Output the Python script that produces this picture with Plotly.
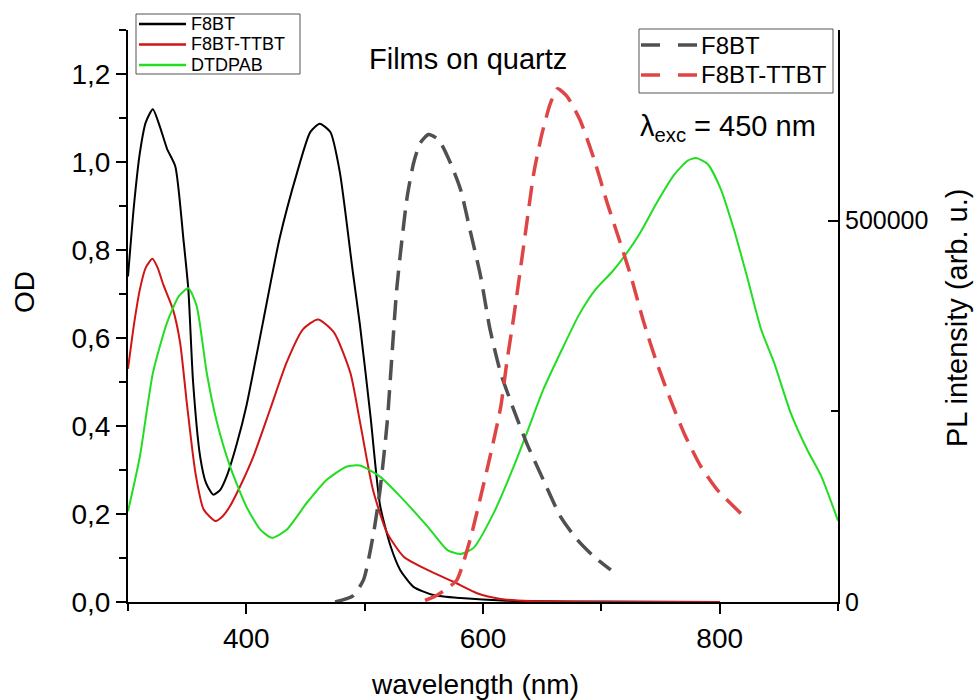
import plotly.graph_objects as go

# ---------------- data ----------------
# Absorption (left axis, OD)
wl_f8bt_abs = [300, 305, 310, 315, 321, 327, 333, 340, 347, 351, 355, 361, 366, 372, 378, 384, 392,
               400, 414, 428, 443, 454, 462, 471, 479, 490, 496, 505, 513, 522, 530, 541, 558, 581,
               620, 700, 800]
od_f8bt = [0.74, 0.90, 1.02, 1.09, 1.12, 1.08, 1.03, 0.99, 0.82, 0.71, 0.50, 0.33, 0.27, 0.244, 0.255,
           0.29, 0.36, 0.445, 0.635, 0.825, 0.977, 1.068, 1.087, 1.068, 0.977, 0.75, 0.63, 0.42, 0.22,
           0.126, 0.073, 0.035, 0.016, 0.009, 0.003, 0.001, 0.0]

wl_ttbt_abs = [300, 305, 310, 315, 320.6, 325, 330, 338, 344, 350, 357, 364, 374, 380, 386, 396, 406,
               420, 434, 448, 460.5, 474, 488, 496, 507, 519, 533, 553, 575, 595, 615, 640, 700, 800]
od_ttbt = [0.53, 0.63, 0.71, 0.76, 0.78, 0.76, 0.72, 0.665, 0.59, 0.445, 0.293, 0.21, 0.184, 0.195,
           0.217, 0.27, 0.331, 0.437, 0.544, 0.62, 0.642, 0.613, 0.52, 0.41, 0.255, 0.157, 0.103,
           0.073, 0.046, 0.02, 0.007, 0.002, 0.0, 0.0]

wl_dtdpab_abs = [300, 310, 321, 333, 343, 351, 358, 366.6, 375, 386, 400, 412, 421.6, 434, 451, 468,
                 485, 496, 513, 530, 553, 570, 581, 592, 609, 626, 637, 651, 665.5, 681, 695, 709,
                 722, 733, 747, 761, 773, 780, 790, 801, 812, 823, 835, 846, 860, 874, 886, 900]
od_dtdpab = [0.206, 0.33, 0.52, 0.635, 0.695, 0.713, 0.673, 0.52, 0.41, 0.31, 0.217, 0.164, 0.146,
             0.164, 0.225, 0.278, 0.308, 0.31, 0.285, 0.24, 0.172, 0.118, 0.109, 0.123, 0.202, 0.308,
             0.384, 0.483, 0.567, 0.652, 0.71, 0.75, 0.795, 0.84, 0.908, 0.969, 1.003, 1.009, 0.995,
             0.938, 0.847, 0.741, 0.62, 0.544, 0.43, 0.346, 0.285, 0.185]

# Photoluminescence (right axis, arb. u.)
wl_f8bt_pl = [475, 480, 490, 499, 507.5, 513, 519, 523, 527, 531.5, 536, 541.4, 547, 554, 562.5, 572.4,
              581, 589, 598, 606, 615, 626, 637, 651, 665.5, 680, 694, 708]
pl_f8bt = [0, 2000, 8000, 29000, 90000, 147000, 235000, 322000, 409000, 475000, 532000, 576000, 602000,
           613000, 606000, 576000, 541000, 488000, 427000, 357000, 300000, 252000, 208000, 160000,
           112000, 81000, 59000, 42000]

wl_ttbt_pl = [551, 560, 570, 578, 589, 598, 606, 615, 620, 626, 631.6, 637, 643, 650, 657, 663, 671, 682,
              694, 705, 716, 725, 736, 747, 758.5, 770, 784, 798, 818]
pl_ttbt = [2000, 8000, 18000, 29000, 81000, 138000, 191000, 256000, 313000, 374000, 436000, 497000,
           563000, 615000, 654000, 673000, 663000, 632000, 580000, 523000, 471000, 427000, 366000,
           313000, 265000, 221000, 178000, 147000, 116000]

# Tick labels
x_ticks = [400, 600, 800]
x_minor = [300, 500, 700, 900]
od_ticks = [0.0, 0.2, 0.4, 0.6, 0.8, 1.0, 1.2]
od_ticktext = ["0,0", "0,2", "0,4", "0,6", "0,8", "1,0", "1,2"]
od_minor = [0.1, 0.3, 0.5, 0.7, 0.9, 1.1, 1.3]
pl_ticks = [0, 500000]
pl_ticktext = ["0", "500000"]
pl_minor = [250000]

abs_names = ["F8BT", "F8BT-TTBT", "DTDPAB"]
pl_names = ["F8BT", "F8BT-TTBT"]

# ---------------- styling ----------------
W, H = 974, 700
L, R, T, B = 128, 136, 30, 98
PW, PH = W - L - R, H - T - B
FONT = "Liberation Sans, Arial, sans-serif"
C_BLACK, C_RED, C_GREEN = "#000000", "#d01515", "#22dd22"
C_GRAY_D, C_RED_D = "#505050", "#e04545"


def fx(p):
    return (p - L) / PW


def fy(p):
    return (H - B - p) / PH


fig = go.Figure()
for wl, val, col, nm in [(wl_f8bt_abs, od_f8bt, C_BLACK, abs_names[0]),
                         (wl_ttbt_abs, od_ttbt, C_RED, abs_names[1]),
                         (wl_dtdpab_abs, od_dtdpab, C_GREEN, abs_names[2])]:
    fig.add_trace(go.Scatter(x=wl, y=val, mode="lines", name=nm, showlegend=False,
                             line=dict(color=col, width=2, shape="spline", smoothing=0.6)))

for wl, val, col, nm in [(wl_f8bt_pl, pl_f8bt, C_GRAY_D, pl_names[0]),
                         (wl_ttbt_pl, pl_ttbt, C_RED_D, pl_names[1])]:
    fig.add_trace(go.Scatter(x=wl, y=val, mode="lines", name=nm + " PL", yaxis="y2", showlegend=False,
                             line=dict(color=col, width=3.5, dash="20px,10px", shape="spline",
                                       smoothing=0.6)))

shapes = []
annotations = []

# left legend (manual)
shapes.append(dict(type="rect", xref="paper", yref="paper", x0=fx(136), x1=fx(300), y0=fy(74), y1=fy(14),
                   line=dict(color="#555555", width=1), fillcolor="white", layer="above"))
for i, (nm, col) in enumerate(zip(abs_names, [C_BLACK, C_RED, C_GREEN])):
    yy = 24 + i * 20.5
    shapes.append(dict(type="line", xref="paper", yref="paper", x0=fx(139), x1=fx(186), y0=fy(yy), y1=fy(yy),
                       line=dict(color=col, width=2.5), layer="above"))
    annotations.append(dict(xref="paper", yref="paper", x=fx(189), y=fy(yy), text=nm, showarrow=False,
                            xanchor="left", yanchor="middle", font=dict(family=FONT, size=18, color="black")))

# right legend (manual)
shapes.append(dict(type="rect", xref="paper", yref="paper", x0=fx(639), x1=fx(833), y0=fy(93), y1=fy(29),
                   line=dict(color="#555555", width=1), fillcolor="white", layer="above"))
for i, (nm, col) in enumerate(zip(pl_names, [C_GRAY_D, C_RED_D])):
    yy = 45 + i * 30
    for a, b in [(641, 660), (678, 697)]:
        shapes.append(dict(type="line", xref="paper", yref="paper", x0=fx(a), x1=fx(b), y0=fy(yy), y1=fy(yy),
                           line=dict(color=col, width=3.5), layer="above"))
    annotations.append(dict(xref="paper", yref="paper", x=fx(699), y=fy(yy), text=nm, showarrow=False,
                            xanchor="left", yanchor="middle", font=dict(family=FONT, size=24, color="black")))

# texts
annotations.append(dict(xref="paper", yref="paper", x=fx(468), y=fy(59), text="Films on quartz", showarrow=False,
                        xanchor="center", yanchor="middle", font=dict(family=FONT, size=29, color="black")))
annotations.append(dict(xref="paper", yref="paper", x=fx(638), y=fy(128), text="λ<sub>exc</sub> = 450 nm",
                        showarrow=False, xanchor="left", yanchor="middle",
                        font=dict(family=FONT, size=29, color="black")))
annotations.append(dict(xref="paper", yref="paper", x=fx(475), y=fy(684), text="wavelength (nm)", showarrow=False,
                        xanchor="center", yanchor="middle", font=dict(family=FONT, size=28, color="black")))
annotations.append(dict(xref="paper", yref="paper", x=fx(24), y=fy(292), text="OD", showarrow=False, textangle=-90,
                        xanchor="center", yanchor="middle", font=dict(family=FONT, size=28, color="black")))
annotations.append(dict(xref="paper", yref="paper", x=fx(957), y=fy(318), text="PL intensity (arb. u.)",
                        showarrow=False, textangle=-90, xanchor="center", yanchor="middle",
                        font=dict(family=FONT, size=29, color="black")))

axis_common = dict(showline=True, linecolor="black", linewidth=2, showgrid=False, zeroline=False,
                   tickcolor="black", tickwidth=2, tickfont=dict(family=FONT, size=28, color="black"))

fig.update_layout(
    width=W, height=H, margin=dict(l=L, r=R, t=T, b=B, pad=0),
    paper_bgcolor="white", plot_bgcolor="white", showlegend=False,
    xaxis=dict(range=[300, 900], tickmode="array", tickvals=x_ticks, ticks="outside", ticklen=10,
               minor=dict(tickmode="array", tickvals=x_minor, ticks="outside", ticklen=7, tickwidth=2,
                          tickcolor="black"),
               **axis_common),
    yaxis=dict(range=[0, 1.3], tickmode="array", tickvals=od_ticks, ticktext=od_ticktext, ticks="outside",
               ticklen=10,
               minor=dict(tickmode="array", tickvals=od_minor, ticks="outside", ticklen=7, tickwidth=2,
                          tickcolor="black"),
               **axis_common),
    yaxis2=dict(range=[0, 750000], overlaying="y", side="right", tickmode="array", tickvals=pl_ticks,
                ticktext=pl_ticktext, ticks="inside", ticklen=10,
                minor=dict(tickmode="array", tickvals=pl_minor, ticks="inside", ticklen=7, tickwidth=2,
                           tickcolor="black"),
                **{**axis_common, "tickfont": dict(family=FONT, size=25, color="black")}),
    shapes=shapes, annotations=annotations,
)

fig.write_html("out.html")
